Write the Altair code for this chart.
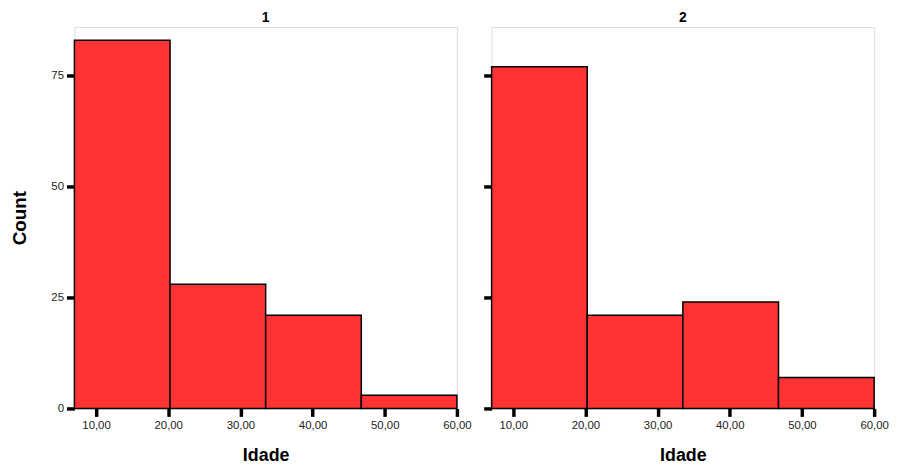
import altair as alt
import pandas as pd

bin_edges = [7.0, 20.25, 33.5, 46.75, 60.0]
counts_1 = [83, 28, 21, 3]
counts_2 = [77, 21, 24, 7]
panel_titles = ["1", "2"]
x_ticks = [10, 20, 30, 40, 50, 60]
y_ticks = [0, 25, 50, 75]

FONT = "Liberation Sans"


def make_df(counts):
    return pd.DataFrame({
        "start": bin_edges[:-1],
        "end": bin_edges[1:],
        "count": counts,
        "zero": [0] * len(counts),
    })


def panel(counts, title, first):
    x_axis = alt.Axis(
        values=x_ticks,
        labelExpr="replace(format(datum.value, '.2f'), '.', ',')",
        title="Idade",
        domain=False,
        grid=False,
        ticks=True,
        tickColor="black",
        tickWidth=3.5,
        tickSize=8,
        labelFont=FONT,
        labelFontSize=11.5,
        labelColor="#222222",
        labelPadding=3,
        labelFlush=False,
        titleFont=FONT,
        titleFontSize=18,
        titleFontWeight="bold",
        titleColor="black",
        titlePadding=16,
    )
    y_axis = alt.Axis(
        values=y_ticks,
        title="Count" if first else None,
        labels=first,
        domain=False,
        grid=False,
        ticks=True,
        tickColor="black",
        tickWidth=3.5,
        tickSize=8,
        labelFont=FONT,
        labelFontSize=11.5,
        labelColor="#222222",
        labelPadding=3,
        titleFont=FONT,
        titleFontSize=19,
        titleFontWeight="bold",
        titleColor="black",
        titlePadding=22,
    )
    return (
        alt.Chart(make_df(counts))
        .mark_rect(color="#ff3333", stroke="black", strokeWidth=1.5)
        .encode(
            x=alt.X("start:Q", scale=alt.Scale(domain=[7, 60], nice=False, zero=False), axis=x_axis),
            x2="end:Q",
            y=alt.Y("count:Q", scale=alt.Scale(domain=[0, 86], nice=False), axis=y_axis),
            y2="zero:Q",
        )
        .properties(
            width=386,
            height=385,
            title=alt.TitleParams(
                title, font=FONT, fontSize=14, fontWeight="bold", color="black",
                anchor="middle", offset=2,
            ),
        )
    )


chart = (
    alt.hconcat(
        panel(counts_1, panel_titles[0], True),
        panel(counts_2, panel_titles[1], False),
        spacing=9,
    )
    .properties(padding={"left": 1, "top": 0, "right": 0, "bottom": 0})
    .configure_view(stroke="#888888", strokeWidth=1)
    .configure(background="white")
)

chart.save("out.html", embed_options={"renderer": "svg", "actions": False})
